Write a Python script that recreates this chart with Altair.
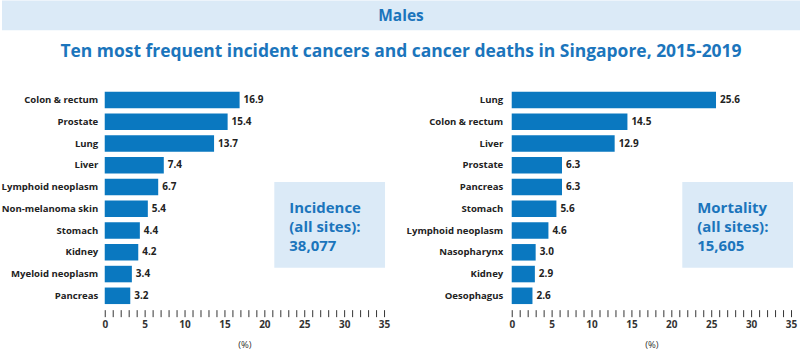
import altair as alt
import pandas as pd

# ---- data ----
inc_sites = ["Colon & rectum", "Prostate", "Lung", "Liver", "Lymphoid neoplasm",
             "Non-melanoma skin", "Stomach", "Kidney", "Myeloid neoplasm", "Pancreas"]
inc_pct = [16.9, 15.4, 13.7, 7.4, 6.7, 5.4, 4.4, 4.2, 3.4, 3.2]

mort_sites = ["Lung", "Colon & rectum", "Liver", "Prostate", "Pancreas", "Stomach",
              "Lymphoid neoplasm", "Nasopharynx", "Kidney", "Oesophagus"]
mort_pct = [25.6, 14.5, 12.9, 6.3, 6.3, 5.6, 4.6, 3.0, 2.9, 2.6]

banner_text = "Males"
title_text = "Ten most frequent incident cancers and cancer deaths in Singapore, 2015-2019"
inc_box_lines = ["Incidence", "(all sites):", "38,077"]
mort_box_lines = ["Mortality", "(all sites):", "15,605"]
x_ticks = list(range(0, 36))

FONT = "Open Sans"
BLUE_TEXT = "#1b75bc"
BAR_BLUE = "#0a78c0"
LIGHT = "#dbeaf7"
DARK = "#222222"


def panel(sites, pct, box_lines, label_pad, box_x, header=False):
    df = pd.DataFrame({"site": sites, "pct": pct})
    y = alt.Y("site:N", sort=None, title=None,
              scale=alt.Scale(paddingInner=0.24, paddingOuter=0.12),
              axis=alt.Axis(ticks=False, domain=False, labelFontWeight="bold",
                            labelFontSize=9.6, labelColor=DARK, labelPadding=label_pad,
                            labelLimit=200))
    x = alt.X("pct:Q", title="(%)",
              scale=alt.Scale(domain=[0, 35], nice=False),
              axis=alt.Axis(values=x_ticks, grid=False, domain=False, offset=3,
                            tickSize=7, tickColor="#333333", tickWidth=1,
                            labelExpr="datum.value % 5 == 0 ? datum.label : ''",
                            labelOverlap=False, labelFlush=False,
                            labelFontSize=10, labelFontWeight="bold", labelColor="#333333",
                            labelPadding=3, titleFontSize=9.5, titleFontWeight="normal",
                            titleColor="#333333", titlePadding=10))
    base = alt.Chart(df)
    bars = base.mark_bar(color=BAR_BLUE).encode(x=x, y=y)
    labels = base.mark_text(align="left", dx=4, fontSize=10, fontWeight="bold",
                            color=DARK).encode(x=x, y=y,
                                               text=alt.Text("pct:Q", format=".1f"))
    one = alt.Chart(alt.Data(values=[{}]))
    box = one.mark_rect(color=LIGHT).encode(
        x=alt.value(box_x), x2=alt.value(box_x + 111), y=alt.value(93), y2=alt.value(179))
    box_text = one.mark_text(align="left", baseline="alphabetic", fontSize=15,
                             fontWeight="bold", color=BLUE_TEXT, lineHeight=19).encode(
        x=alt.value(box_x + 15), y=alt.value(124), text=alt.value(box_lines))
    layers = [bars, labels, box, box_text]
    if header:
        layers += [
            one.mark_rect(color=LIGHT).encode(x=alt.value(-103), x2=alt.value(697),
                                              y=alt.value(-89), y2=alt.value(-59)),
            one.mark_text(fontSize=15.5, fontWeight="bold", color=BLUE_TEXT,
                          baseline="middle").encode(
                x=alt.value(297), y=alt.value(-73), text=alt.value(banner_text)),
            one.mark_text(fontSize=17.5, fontWeight="bold", color=BLUE_TEXT,
                          baseline="middle").encode(
                x=alt.value(297), y=alt.value(-37), text=alt.value(title_text)),
        ]
    return alt.layer(*layers).properties(width=280, height=218)


chart = alt.hconcat(
    panel(inc_sites, inc_pct, inc_box_lines, 7, 170, header=True),
    panel(mort_sites, mort_pct, mort_box_lines, 9, 171),
    spacing=128, bounds="flush",
).properties(padding=0, background="white").configure(font=FONT).configure_view(strokeWidth=0)

chart.save("out.html", embed_options={"renderer": "svg", "actions": False})
